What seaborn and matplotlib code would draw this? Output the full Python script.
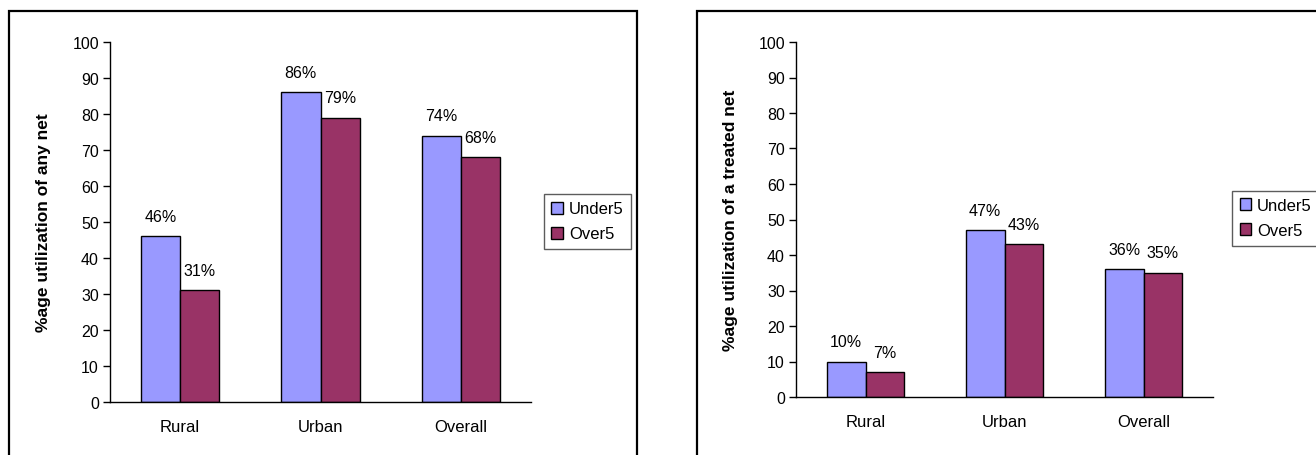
import matplotlib
matplotlib.use("Agg")
import matplotlib.pyplot as plt
import seaborn as sns
import pandas as pd
from matplotlib.patches import Rectangle, Patch

# data
areas = ["Rural", "Urban", "Overall"]
groups = ["Under5", "Over5"]
any_net_under5 = [46, 86, 74]
any_net_over5 = [31, 79, 68]
treated_under5 = [10, 47, 36]
treated_over5 = [7, 43, 35]
yticks = list(range(0, 101, 10))

colors = {"Under5": "#9999FF", "Over5": "#993366"}

sns.set_theme(style="white")
plt.rcParams["font.family"] = ["Liberation Sans", "DejaVu Sans"]
plt.rcParams.update({
    "text.color": "black",
    "axes.labelcolor": "black",
    "xtick.labelcolor": "black",
    "ytick.labelcolor": "black",
})


def long_table(under5, over5):
    rows = []
    for a, u, o in zip(areas, under5, over5):
        rows.append({"area": a, "group": "Under5", "pct": u})
        rows.append({"area": a, "group": "Over5", "pct": o})
    return pd.DataFrame(rows)


def draw_panel(ax, df, ylabel, legend_anchor, legend_loc):
    sns.barplot(data=df, x="area", y="pct", hue="group", order=areas,
                hue_order=groups, palette=colors, edgecolor="black",
                linewidth=1, width=0.56, saturation=1, ax=ax, legend=False)
    for cont in ax.containers:
        ax.bar_label(cont, labels=[f"{v:.0f}%" for v in cont.datavalues],
                     padding=9, fontsize=11.5)
    ax.set_xlim(-0.5, 2.5)
    ax.set_ylim(0, 100)
    ax.set_yticks(yticks)
    ax.set_xticks(range(len(areas)))
    ax.set_xticks([-0.5, 0.5, 1.5, 2.5], minor=True)
    ax.tick_params(axis="x", which="major", length=0, pad=12, labelsize=12)
    ax.tick_params(axis="x", which="minor", length=5, width=1, color="black", direction="out")
    ax.tick_params(axis="y", length=5, width=1, color="black", direction="out",
                   left=True, pad=3, labelsize=11.5)
    for s in ["top", "right"]:
        ax.spines[s].set_visible(False)
    for s in ["left", "bottom"]:
        ax.spines[s].set_color("black")
        ax.spines[s].set_linewidth(1)
    ax.set_xlabel("")
    ax.set_ylabel(ylabel, fontsize=12.5, fontweight="bold")
    ax.yaxis.set_label_coords(-0.14, 0.5)
    handles = [Patch(facecolor=colors[g], edgecolor="black", linewidth=1) for g in groups]
    leg = fig.legend(handles, groups, loc=legend_loc, bbox_to_anchor=legend_anchor,
                     frameon=True, fancybox=False, edgecolor="#333333", fontsize=12,
                     handlelength=0.7, handleheight=0.7, handletextpad=0.35,
                     labelspacing=0.6, borderpad=0.45, borderaxespad=0)
    leg.get_frame().set_linewidth(1)


W, H = 1316, 456
fig = plt.figure(figsize=(W / 100, H / 100), dpi=100)
fig.patch.set_facecolor("white")

ax1 = fig.add_axes([110 / W, 1 - 403 / H, 421 / W, 360 / H])
ax2 = fig.add_axes([796 / W, 1 - 398 / H, 417 / W, 355 / H])

draw_panel(ax1, long_table(any_net_under5, any_net_over5),
           "%age utilization of any net", (587.5 / W, 1 - 222.5 / H), "center")
draw_panel(ax2, long_table(treated_under5, treated_over5),
           "%age utilization of a treated net", (1232 / W, 1 - 219 / H), "center left")

# outer chart frames
fig.add_artist(Rectangle((9 / W, -0.2), 628 / W, 0.2 + 1 - 12 / H, transform=fig.transFigure,
                         fill=False, edgecolor="black", linewidth=1.6))
fig.add_artist(Rectangle((697 / W, -0.2), 0.6, 0.2 + 1 - 12 / H, transform=fig.transFigure,
                         fill=False, edgecolor="black", linewidth=1.6))

fig.savefig("out.png", dpi=100)
